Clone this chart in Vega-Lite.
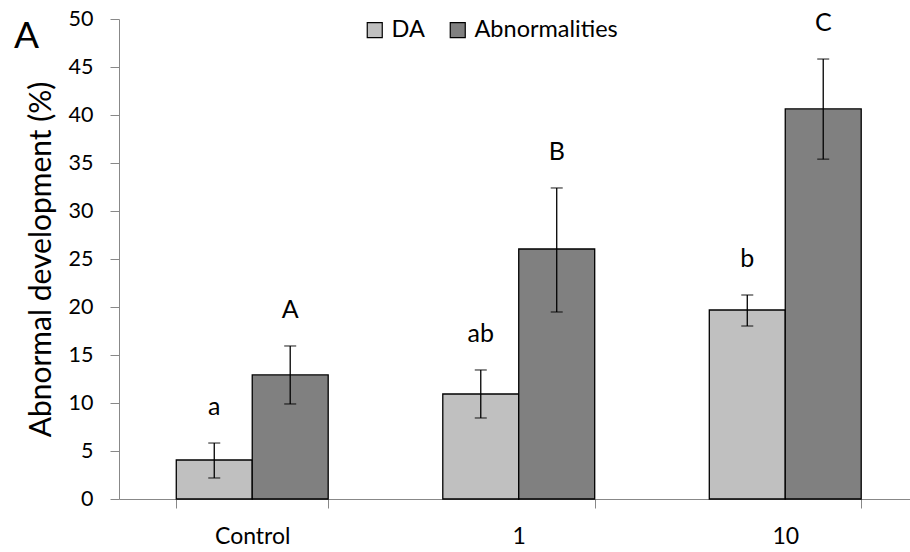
{
  "$schema": "https://vega.github.io/schema/vega-lite/v6.json",
  "autosize": {"type": "none"},
  "width": 791,
  "height": 480,
  "padding": {"left": 119, "top": 19, "right": 0, "bottom": 53},
  "background": "white",
  "title": {"text": "A", "anchor": "start", "frame": "group", "fontSize": 37, "font": "Lato", "fontWeight": "normal", "color": "black", "dx": -105, "dy": 81, "baseline": "alphabetic"},
  "config": {
    "font": "Lato",
    "view": {"stroke": null},
    "axis": {"grid": false, "domainColor": "#888888", "tickColor": "#888888", "labelColor": "black", "titleColor": "black", "labelFont": "Lato", "titleFont": "Lato", "titleFontWeight": "normal"}
  },
  "data": {"values": [
    {"dose": "Control", "series": "DA", "mean": 4.06, "lo": 2.19, "hi": 5.83, "letter": "a"},
    {"dose": "Control", "series": "Abnormalities", "mean": 12.92, "lo": 9.9, "hi": 15.94, "letter": "A"},
    {"dose": "1", "series": "DA", "mean": 10.94, "lo": 8.44, "hi": 13.44, "letter": "ab"},
    {"dose": "1", "series": "Abnormalities", "mean": 26.04, "lo": 19.48, "hi": 32.4, "letter": "B"},
    {"dose": "10", "series": "DA", "mean": 19.69, "lo": 18.02, "hi": 21.25, "letter": "b"},
    {"dose": "10", "series": "Abnormalities", "mean": 40.63, "lo": 35.4, "hi": 45.83, "letter": "C"}
  ]},
  "encoding": {
    "x": {"field": "dose", "type": "nominal", "sort": ["Control", "1", "10"],
      "scale": {"paddingInner": 0.43, "paddingOuter": 0.199, "align": 0.54},
      "axis": {"title": null, "labelAngle": 0, "tickBand": "extent", "tickSize": 9, "labelFontSize": 23, "labelPadding": 17}},
    "xOffset": {"field": "series", "type": "nominal", "sort": ["DA", "Abnormalities"], "scale": {"paddingInner": 0, "paddingOuter": 0}}
  },
  "layer": [
    {
      "mark": {"type": "bar", "stroke": "black", "strokeWidth": 1.3},
      "encoding": {
        "y": {"field": "mean", "type": "quantitative", "scale": {"domain": [0, 50], "nice": false},
          "axis": {"title": "Abnormal development (%)", "titleFontSize": 30, "titlePadding": 12, "values": [0,5,10,15,20,25,30,35,40,45,50], "tickSize": 9, "labelFontSize": 21.5, "labelPadding": 17}},
        "color": {"field": "series", "type": "nominal", "sort": ["DA", "Abnormalities"],
          "scale": {"domain": ["DA", "Abnormalities"], "range": ["#c0c0c0", "#808080"]},
          "legend": {"title": null, "orient": "none", "direction": "horizontal", "legendX": 244, "legendY": -1, "symbolType": "square", "symbolSize": 225, "symbolStrokeColor": "black", "symbolStrokeWidth": 1.2, "labelFontSize": 23.5, "labelFont": "Lato", "labelColor": "black", "labelOffset": 5, "columnPadding": 21, "padding": 0}}
      }
    },
    {
      "mark": {"type": "rule", "color": "black", "strokeWidth": 1.3},
      "encoding": {"y": {"field": "lo", "type": "quantitative"}, "y2": {"field": "hi"}}
    },
    {
      "mark": {"type": "tick", "color": "black", "size": 12, "thickness": 1.3},
      "encoding": {"y": {"field": "lo", "type": "quantitative"}}
    },
    {
      "mark": {"type": "tick", "color": "black", "size": 12, "thickness": 1.3},
      "encoding": {"y": {"field": "hi", "type": "quantitative"}}
    },
    {
      "mark": {"type": "text", "fontSize": 25, "font": "Lato", "color": "black", "baseline": "alphabetic", "dy": -28},
      "encoding": {"y": {"field": "hi", "type": "quantitative"}, "text": {"field": "letter"}}
    }
  ]
}
